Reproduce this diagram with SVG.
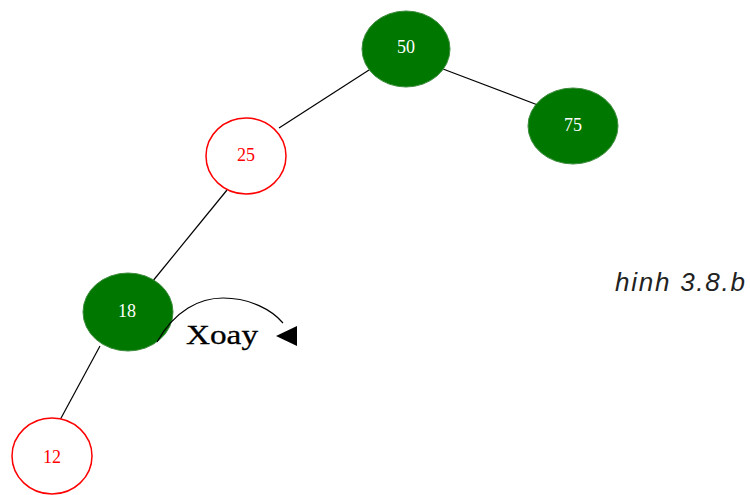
<svg xmlns="http://www.w3.org/2000/svg" width="750" height="495" viewBox="0 0 750 495">
  <style>
    .edge { stroke: #000; stroke-width: 1.2; fill: none; }
    .black-node { fill: #007800; stroke: #3c8c3c; stroke-width: 1; }
    .red-node { fill: #fff; stroke: #ff0000; stroke-width: 1.5; }
    .label { font-family: "Liberation Serif", serif; font-size: 18px; text-anchor: middle; dominant-baseline: central; }
    .label-w { fill: #fff; }
    .label-r { fill: #ff0000; }
  </style>
  <rect width="750" height="495" fill="#fff"/>
  <g id="connectors">
    <line class="edge" x1="369" y1="70" x2="279" y2="128"/>
    <line class="edge" x1="443" y1="69" x2="543" y2="107"/>
    <line class="edge" x1="227" y1="190" x2="152" y2="282"/>
    <line class="edge" x1="100" y1="346" x2="60" y2="420"/>
  </g>
  <g id="node-50">
    <ellipse class="black-node" cx="406" cy="49" rx="44" ry="38"/>
    <text class="label label-w" x="406" y="47">50</text>
  </g>
  <g id="node-75">
    <ellipse class="black-node" cx="573" cy="126" rx="45" ry="38"/>
    <text class="label label-w" x="573" y="125">75</text>
  </g>
  <g id="node-25">
    <ellipse class="red-node" cx="246" cy="156" rx="40" ry="38"/>
    <text class="label label-r" x="246" y="155">25</text>
  </g>
  <g id="node-18">
    <ellipse class="black-node" cx="128" cy="312" rx="45" ry="39"/>
    <text class="label label-w" x="127" y="311">18</text>
  </g>
  <g id="node-12">
    <ellipse class="red-node" cx="52" cy="456" rx="40" ry="38"/>
    <text class="label label-r" x="52" y="457">12</text>
  </g>
  <g id="rotate">
    <path class="edge" d="M157 342 C175 310 200 298 223 298 C250 298 272 310 283 323"/>
    <polygon points="276,336 297,326 297,346" fill="#000"/>
    <text x="186" y="344" font-family="'Liberation Serif', serif" font-size="27" fill="#000" stroke="#000" stroke-width="0.3" textLength="72" lengthAdjust="spacingAndGlyphs">Xoay</text>
  </g>
  <text x="615" y="291" font-family="'Liberation Sans', sans-serif" font-style="italic" font-size="26" fill="#222" textLength="130" lengthAdjust="spacing">hinh 3.8.b</text>
</svg>
